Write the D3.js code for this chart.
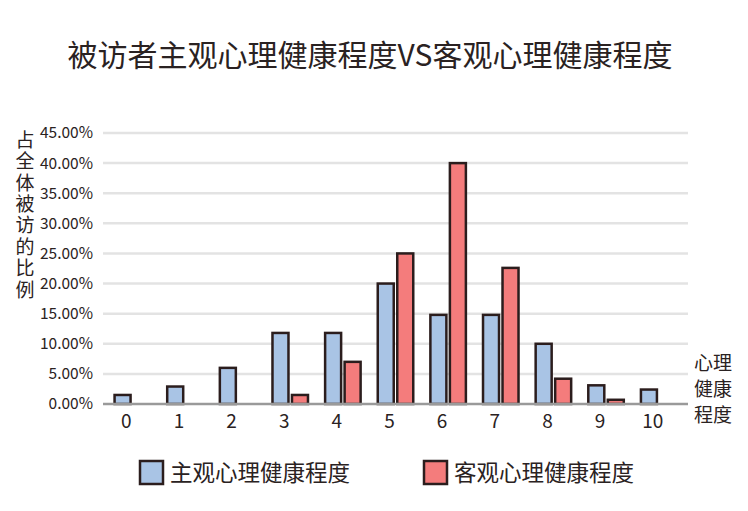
<!DOCTYPE html>
<html><head><meta charset="utf-8">
<script src="https://cdn.jsdelivr.net/npm/d3@7"></script>
<style>body{margin:0;background:#fff}svg{display:block}</style>
</head><body><svg id="c" width="748" height="511"></svg>
<script>
const title = "被访者主观心理健康程度VS客观心理健康程度";
const categories = ["0","1","2","3","4","5","6","7","8","9","10"];
const seriesNames = ["主观心理健康程度","客观心理健康程度"];
const subjective = [0.015,0.029,0.060,0.118,0.118,0.200,0.148,0.148,0.100,0.031,0.024];
const objective  = [0,0,0,0.015,0.070,0.250,0.400,0.226,0.042,0.007,0];
const yTicks = [0,0.05,0.10,0.15,0.20,0.25,0.30,0.35,0.40,0.45];
const yLabel = "占全体被访的比例";
const xLabelLines = ["心理","健康","程度"];
const colors = ["#a9c4e5","#f47c7c"];
const stroke = "#2b1d1d";
const font = "'Noto Sans CJK SC', 'Noto Sans', sans-serif";
const ink = "#2a2222";

const svg = d3.select("#c");
const x = d3.scaleBand().domain(categories).range([107, 686]).padding(0);
const y = d3.scaleLinear().domain([0,0.45]).range([404,133]);
const barW = 16, gap = 3.5;
const inner = d3.scaleOrdinal().domain([0,1]).range([x.bandwidth()/2 - barW - gap/2 - 1, x.bandwidth()/2 + gap/2 - 1]);

// title
svg.append("text").attr("x",370).attr("y",66).attr("text-anchor","middle")
  .attr("font-family",font).attr("font-size",30).attr("fill",ink).text(title);

// gridlines
svg.append("g").selectAll("line").data(yTicks.filter(d=>d>0)).join("line")
  .attr("x1",103).attr("x2",688).attr("y1",d=>y(d)).attr("y2",d=>y(d))
  .attr("stroke","#e3e3e3").attr("stroke-width",2.5);

// y axis labels
const yAxis = d3.axisLeft(y).tickValues(yTicks).tickFormat(d=>(d*100).toFixed(2)+"%").tickSize(0).tickPadding(0);
const ya = svg.append("g").attr("transform","translate(93,0)").call(yAxis);
ya.select(".domain").remove();
ya.selectAll("text").attr("font-family",font).attr("font-size",15.5).attr("fill",ink);

// y label vertical (single text, vertical writing)
svg.append("text").attr("x",25).attr("y",130)
  .style("writing-mode","vertical-rl").style("text-orientation","upright")
  .attr("letter-spacing",2.4)
  .attr("font-family",font).attr("font-size",19).attr("fill",ink).text(yLabel);

// bars
const data = categories.map((c,i)=>({c, vals:[subjective[i], objective[i]]}));
const groups = svg.append("g").selectAll("g").data(data).join("g")
  .attr("transform",d=>`translate(${x(d.c)},0)`);
groups.selectAll("rect").data(d=>d.vals.map((v,k)=>({v,k})).filter(e=>e.v>0)).join("rect")
  .attr("x",e=>inner(e.k)).attr("width",barW)
  .attr("y",e=>y(e.v)).attr("height",e=>y(0)-y(e.v))
  .attr("fill",e=>colors[e.k]).attr("stroke",stroke).attr("stroke-width",2.5);

// baseline
svg.append("line").attr("x1",103).attr("x2",688).attr("y1",y(0)).attr("y2",y(0))
  .attr("stroke","#9a9a9a").attr("stroke-width",2.5);

// x axis labels
const xAxis = d3.axisBottom(x).tickSize(0).tickPadding(0);
const xa = svg.append("g").attr("transform",`translate(-7,${y(0)+10})`).call(xAxis);
xa.select(".domain").remove();
xa.selectAll("text").attr("font-family",font).attr("font-size",19).attr("fill",ink);

// x label
svg.append("g").selectAll("text").data(xLabelLines).join("text")
  .attr("x",713).attr("y",(d,i)=>363+i*26).attr("dy","0.35em").attr("text-anchor","middle")
  .attr("font-family",font).attr("font-size",19).attr("fill",ink).text(d=>d);

// legend
const legX = [140, 424];
const lg = svg.append("g").selectAll("g").data(seriesNames).join("g")
  .attr("transform",(d,i)=>`translate(${legX[i]},461)`);
lg.append("rect").attr("width",23).attr("height",23).attr("fill",(d,i)=>colors[i])
  .attr("stroke",stroke).attr("stroke-width",2.5);
lg.append("text").attr("x",30).attr("y",12).attr("dy","0.35em")
  .attr("font-family",font).attr("font-size",22.5).attr("fill",ink).text(d=>d);
</script></body></html>
